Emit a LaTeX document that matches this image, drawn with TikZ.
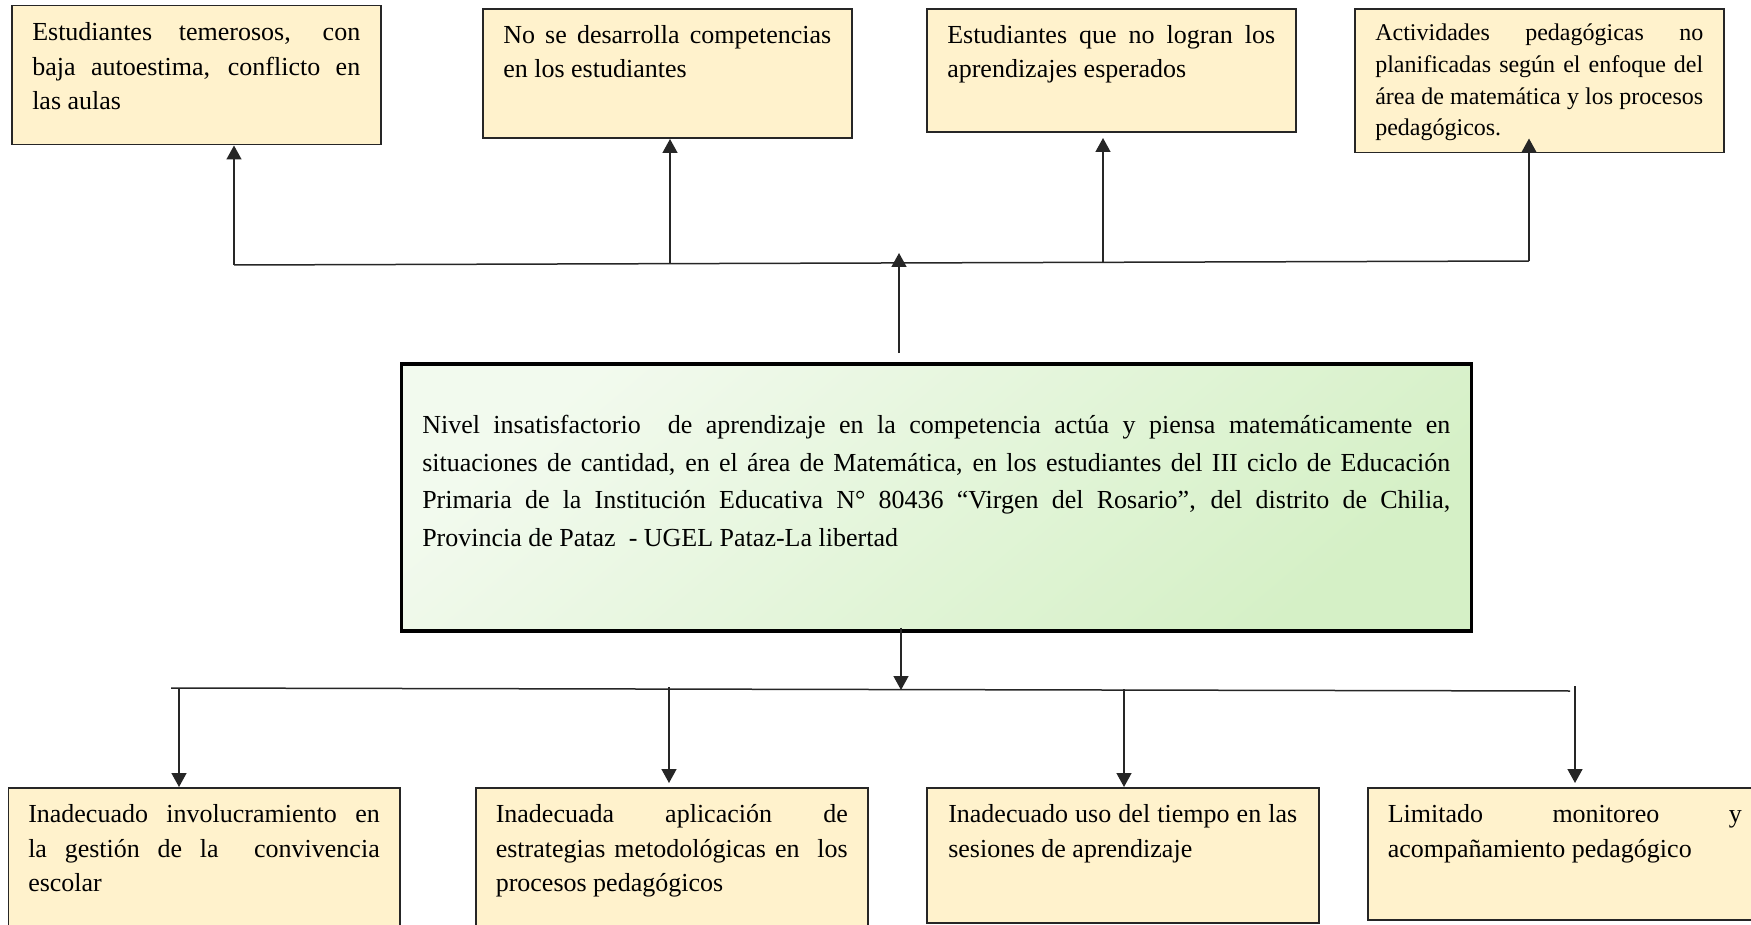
\documentclass[tikz,border=0pt]{standalone}
\usepackage{fontspec}
\setmainfont{Liberation Serif}
\usetikzlibrary{arrows.meta,calc}
\definecolor{cream}{HTML}{FFF2CC}
\definecolor{greenlight}{HTML}{F2FAEE}
\definecolor{greendark}{HTML}{D5F0C6}
\tikzset{
  cbox/.style={draw=black!85,line width=1.5pt,fill=cream,anchor=north west,
    inner xsep=20.5pt,inner ysep=0pt,text width=328pt,align=justify,
    font=\fontsize{26}{34.5}\selectfont},
  conn/.style={line width=1.5pt,draw=black!85},
  arr/.style={conn,-{Triangle[width=15pt,length=14pt]}},
}
\begin{document}
\begin{tikzpicture}[x=1pt,y=-1pt]
  \useasboundingbox (0,0) rectangle (1751,925);
  % efectos
  \node[cbox,text height=35pt,text depth=104pt] (ef1) at (11,5)
    {Estudiantes temerosos, con\linebreak baja autoestima, conflicto en\linebreak las aulas};
  \node[cbox,text height=34pt,text depth=95pt] (ef2) at (482,8.5)
    {No se desarrolla competencias\linebreak en los estudiantes};
  \node[cbox,text height=34pt,text depth=89pt] (ef3) at (926,8.5)
    {Estudiantes que no logran los\linebreak aprendizajes esperados};
  \node[cbox,text height=31.5pt,text depth=112pt,font=\fontsize{24}{31.7}\selectfont] (ef4) at (1354,8.5)
    {Actividades pedagógicas no\linebreak planificadas según el enfoque del\linebreak área de matemática y los procesos\linebreak pedagógicos.};
  % problema
  \node[cbox,draw=black,line width=3.5pt,top color=greenlight,bottom color=greendark,shading angle=40,
    text width=1028pt,inner xsep=21pt,text height=70pt,text depth=197pt,
    font=\fontsize{26}{37.5}\selectfont] (prob) at (399.5,362)
    {Nivel insatisfactorio\ \ de aprendizaje en la competencia actúa y piensa matemáticamente en\linebreak
     situaciones de cantidad, en el área de Matemática, en los estudiantes del III ciclo de Educación\linebreak
     Primaria de la Institución Educativa N° 80436 “Virgen del Rosario”, del distrito de Chilia,\linebreak
     Provincia de Pataz\ \ - UGEL Pataz-La libertad};
  % causas
  \node[cbox,text width=351.5pt,inner xsep=20pt,text height=35pt,text depth=190pt] (ca1) at (7.5,787)
    {Inadecuado involucramiento en\linebreak la gestión de la\ \ convivencia\linebreak escolar};
  \node[cbox,text width=352pt,inner xsep=20pt,text height=35pt,text depth=190pt] (ca2) at (475,787)
    {Inadecuada aplicación de\linebreak estrategias metodológicas en\ \ los\linebreak procesos pedagógicos};
  \node[cbox,text width=349pt,inner xsep=21.5pt,text height=35pt,text depth=100pt] (ca3) at (926,787)
    {Inadecuado uso del tiempo en las\linebreak sesiones de aprendizaje};
  \node[cbox,text width=354pt,inner xsep=20pt,text height=35pt,text depth=97pt] (ca4) at (1367,787)
    {Limitado monitoreo y\linebreak acompañamiento pedagógico};
  % ramas de arriba
  \coordinate (up1) at (234,265);
  \coordinate (up2) at (670,264);
  \coordinate (up3) at (1103,263);
  \coordinate (up4) at (1529,261);
  \coordinate (hubtop) at (899,253);
  \draw[conn] (up1) -- (up4);
  \draw[arr] (up1) -- (up1 |- ef1.south);
  \draw[arr] (up2) -- (up2 |- ef2.south);
  \draw[arr] (up3) -- ($(up3 |- ef3.south)+(0,5)$);
  \draw[arr] (up4) -- ($(up4 |- ef4.south)+(0,-15)$);
  \draw[arr] ($(prob.north -| hubtop)+(0,-9)$) -- (hubtop);
  % ramas de abajo
  \coordinate (hubbot) at (901,690);
  \coordinate (dn1) at (179,688);
  \coordinate (dn2) at (669,687);
  \coordinate (dn3) at (1124,689);
  \coordinate (dn4) at (1575,686);
  \draw[arr] ($(prob.south -| hubbot)+(0,-5)$) -- (hubbot);
  \draw[conn] (171,688) -- (1570,691);
  \draw[arr] (dn1) -- (dn1 |- ca1.north);
  \draw[arr] (dn2) -- ($(dn2 |- ca2.north)+(0,-4)$);
  \draw[arr] (dn3) -- (dn3 |- ca3.north);
  \draw[arr] (dn4) -- ($(dn4 |- ca4.north)+(0,-4)$);
\end{tikzpicture}
\end{document}
